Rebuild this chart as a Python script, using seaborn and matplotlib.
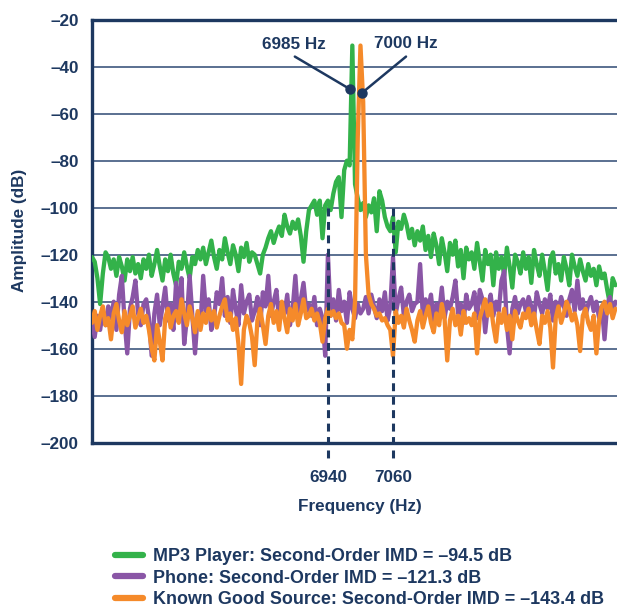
import numpy as np
import pandas as pd
import matplotlib
matplotlib.use("Agg")
import matplotlib.pyplot as plt
import seaborn as sns
from matplotlib.lines import Line2D

# ---------------- data ----------------
freq_start, freq_step = 6505, 5  # Hz grid of the spectra

green_S0 = [-121,-123,-130,-141,-128,-119,-121,-126,-122,-129,-121,-125,-131,-122,-127,-121,-128,-124,-130,-122]
green_S1 = [-126,-120,-129,-124,-118,-125,-131,-122,-127,-120,-128,-133,-123,-126,-119,-125,-130,-121,-124,-118]
green_S2 = [-122,-117,-124,-119,-114,-121,-126,-118,-122,-113,-119,-124,-116,-120,-127,-117,-121,-115,-123,-119]
green_S3 = [-120,-124,-128,-120,-117,-113,-110,-115,-111,-108,-112,-103,-108,-111,-106,-109,-105,-112,-123,-110]
green_S4 = [-101,-99,-97,-103,-97,-113,-99,-97,-101,-94,-89,-87,-104,-84,-80,-82,-31,-90,-96,-101]
green_S5 = [-98,-104,-99,-102,-96,-110,-93,-97,-104,-108,-110,-104,-119,-106,-109,-103,-107,-113,-109,-116]
green_S6 = [-110,-114,-108,-118,-112,-121,-111,-116,-124,-113,-119,-127,-115,-120,-114,-125,-118,-130,-117,-122]
green_S7 = [-119,-126,-115,-123,-131,-118,-124,-120,-133,-119,-126,-121,-129,-117,-125,-134,-120,-123,-128,-119]
green_S8 = [-126,-121,-132,-118,-124,-129,-120,-127,-135,-122,-119,-128,-124,-131,-121,-126,-133,-120,-125,-129]
green_S9 = [-122,-127,-131,-124,-129,-126,-133,-125,-130,-128,-135,-141,-130,-133]

purple_S0 = [-148,-155,-146,-152,-144,-150,-142,-147,-140,-152,-137,-129,-148,-162,-143,-138,-131,-145,-150,-141]
purple_S1 = [-139,-147,-163,-145,-137,-150,-142,-134,-148,-141,-152,-132,-144,-130,-158,-147,-129,-146,-162,-145]
purple_S2 = [-150,-129,-144,-139,-152,-147,-136,-141,-130,-146,-138,-149,-135,-143,-150,-133,-145,-140,-137,-148]
purple_S3 = [-144,-138,-150,-136,-142,-129,-146,-140,-135,-148,-141,-145,-137,-150,-143,-129,-147,-139,-132,-144]
purple_S4 = [-141,-146,-138,-150,-143,-147,-163,-120,-146,-139,-148,-135,-144,-140,-149,-136,-143,-147,-141,-145]
purple_S5 = [-143,-138,-145,-137,-142,-147,-139,-144,-136,-148,-142,-121,-145,-139,-134,-146,-140,-137,-144,-141]
purple_S6 = [-140,-124,-146,-139,-143,-137,-148,-141,-145,-134,-147,-140,-143,-138,-131,-145,-141,-149,-137,-143]
purple_S7 = [-141,-136,-147,-135,-139,-153,-142,-137,-146,-140,-144,-131,-127,-150,-162,-143,-138,-145,-141,-139]
purple_S8 = [-144,-138,-142,-147,-136,-141,-145,-139,-143,-137,-148,-140,-144,-138,-142,-146,-139,-135,-144,-131]
purple_S9 = [-143,-139,-146,-141,-138,-144,-140,-147,-142,-156,-141,-138,-145,-140]

orange_S0 = [-149,-144,-152,-146,-142,-150,-147,-156,-145,-141,-148,-153,-144,-150,-146,-142,-151,-147,-143,-149]
orange_S1 = [-146,-152,-160,-165,-150,-157,-165,-147,-143,-151,-146,-144,-149,-139,-145,-150,-142,-147,-153,-144]
orange_S2 = [-152,-145,-149,-143,-148,-144,-151,-146,-142,-139,-148,-145,-152,-147,-158,-175,-152,-146,-149,-155]
orange_S3 = [-167,-148,-143,-150,-158,-146,-141,-149,-144,-152,-140,-147,-153,-143,-148,-141,-150,-145,-139,-147]
orange_S4 = [-146,-143,-148,-145,-149,-157,-147,-143,-146,-144,-147,-145,-149,-150,-160,-152,-156,-140,-70,-31]
orange_S5 = [-55,-120,-137,-141,-143,-146,-145,-148,-147,-150,-152,-163,-144,-149,-146,-151,-143,-148,-152,-157]
orange_S6 = [-148,-144,-151,-146,-142,-149,-153,-145,-150,-141,-147,-165,-148,-143,-150,-146,-154,-144,-149,-147]
orange_S7 = [-150,-145,-162,-147,-143,-139,-146,-141,-150,-157,-145,-149,-143,-152,-146,-156,-144,-148,-151,-145]
orange_S8 = [-147,-143,-150,-145,-152,-158,-146,-149,-144,-151,-168,-147,-142,-149,-145,-140,-143,-148,-145,-150]
orange_S9 = [-161,-146,-143,-149,-152,-146,-162,-148,-142,-140,-145,-141,-147,-143]

series_labels = [
    "MP3 Player: Second-Order IMD = \u201394.5 dB",
    "Phone: Second-Order IMD = \u2013121.3 dB",
    "Known Good Source: Second-Order IMD = \u2013143.4 dB",
]
imd_freqs = [6940, 7060]
tone_labels = ["6985 Hz", "7000 Hz"]
y_ticks = list(range(-20, -201, -20))

# ---------------- assemble ----------------
green = sum([green_S0, green_S1, green_S2, green_S3, green_S4, green_S5, green_S6, green_S7, green_S8, green_S9], [])
purple = sum([purple_S0, purple_S1, purple_S2, purple_S3, purple_S4, purple_S5, purple_S6, purple_S7, purple_S8, purple_S9], [])
orange = sum([orange_S0, orange_S1, orange_S2, orange_S3, orange_S4, orange_S5, orange_S6, orange_S7, orange_S8, orange_S9], [])
freq = freq_start + freq_step * np.arange(len(green))

df = pd.DataFrame({"freq": np.concatenate([freq, freq, freq]),
                   "amp": green + purple + orange,
                   "series": [series_labels[0]] * len(green) + [series_labels[1]] * len(purple) + [series_labels[2]] * len(orange)})

NAVY = "#1d3860"
GRID = "#4d6488"
colors = ["#33b24a", "#8a56a6", "#f58a2a"]

sns.set_style("white")
plt.rcParams["font.family"] = ["Liberation Sans", "DejaVu Sans"]
plt.rcParams["font.weight"] = "bold"

fig = plt.figure(figsize=(6.17, 6.13), dpi=100)
ax = fig.add_axes([92 / 617, 1 - 442.7 / 613, 1 - 92 / 617, (442.7 - 19.7) / 613])

for lab, col in zip(series_labels, colors):
    sns.lineplot(data=df[df["series"] == lab], x="freq", y="amp", color=col, lw=3.1,
                 estimator=None, sort=False, ax=ax, legend=False, zorder=3)

ax.set_xlim(6505, 7473)
ax.set_ylim(-200, -20)
ax.set_yticks(y_ticks)
ax.set_yticklabels([f"\u2013{abs(v)}" for v in y_ticks])
ax.set_xticks(imd_freqs)
ax.set_xticklabels([str(v) for v in imd_freqs])
ax.tick_params(axis="both", length=0, labelsize=12.3, colors=NAVY)
ax.tick_params(axis="y", pad=9.5)
ax.tick_params(axis="x", pad=20)
for t in ax.get_xticklabels() + ax.get_yticklabels():
    t.set_fontweight("bold")

ax.yaxis.grid(True, color=GRID, lw=1.3, zorder=0)
ax.set_axisbelow(True)
for s in ["left", "top", "bottom"]:
    ax.spines[s].set_color(NAVY)
    ax.spines[s].set_linewidth(2.4)
ax.spines["right"].set_visible(False)

ax.set_xlabel("Frequency (Hz)", fontsize=12.3, fontweight="bold", color=NAVY)
ax.xaxis.set_label_coords(0.51, -0.133)
ax.set_ylabel("Amplitude (dB)", fontsize=12.3, fontweight="bold", color=NAVY)
ax.yaxis.set_label_coords(-0.124, 0.503)

# dashed IMD markers
for f in imd_freqs:
    ax.plot([f, f], [-100, -208], color=NAVY, lw=2.2, ls=(0, (2.6, 1.8)), zorder=5, clip_on=False)

# tone annotations
dot_pts = [(6981, -49.6), (7002, -51.3)]
text_pts = [(6878, -30.7), (7084, -30.2)]
line_starts = [(6879, -35.7), (7084, -35.7)]
for lab, (dx, dy), (tx, ty), (sx, sy) in zip(tone_labels, dot_pts, text_pts, line_starts):
    ax.plot([sx, dx], [sy, dy], color=NAVY, lw=1.8, zorder=6)
    ax.plot([dx], [dy], "o", color=NAVY, ms=6.5, zorder=7)
    ax.text(tx, ty, lab, ha="center", va="center", fontsize=12.3, fontweight="bold", color=NAVY)

handles = [Line2D([0], [0], color=c, lw=4.5, solid_capstyle="round") for c in colors]
leg = fig.legend(handles, series_labels, loc="upper left", bbox_to_anchor=(115 / 617, 1 - 548 / 613),
                 frameon=False, fontsize=12.9, handlelength=1.56, handletextpad=0.56,
                 labelspacing=0.26, borderpad=0, borderaxespad=0)
for t in leg.get_texts():
    t.set_color(NAVY)
    t.set_fontweight("bold")

fig.savefig("out.png", dpi=100, facecolor="white")
